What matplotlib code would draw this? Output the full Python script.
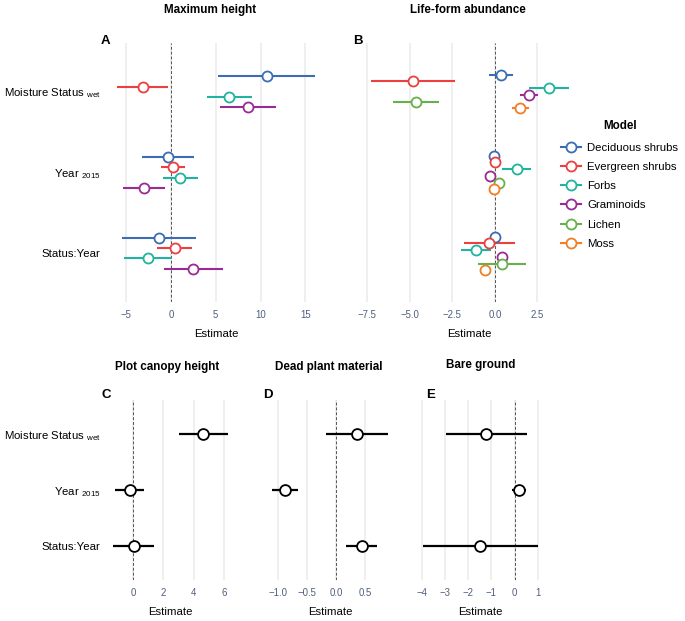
import matplotlib
matplotlib.use("Agg")
import matplotlib.pyplot as plt
from matplotlib.lines import Line2D

plt.rcParams['font.family'] = ['Liberation Sans', 'DejaVu Sans']
plt.rcParams['mathtext.fontset'] = 'custom'
plt.rcParams['mathtext.rm'] = 'Liberation Sans'
plt.rcParams['mathtext.it'] = 'Liberation Sans'

# terms (rows, top to bottom)
terms = [r"Moisture Status$\ _{\mathrm{wet}}$", r"Year$\ _{\mathrm{2015}}$", "Status:Year"]

# life forms
lifeforms = ["Deciduous shrubs", "Evergreen shrubs", "Forbs", "Graminoids", "Lichen", "Moss"]
lf_colors = ["#3b6db5", "#ec3f3f", "#1fb3a0", "#9a2b94", "#67b04b", "#f07f26"]

# Maximum height: rows = life forms (first four), columns = terms
maxh_est = [[10.67, -0.37, -1.34],
            [-3.16, 0.22, 0.41],
            [6.50, 1.04, -2.53],
            [8.59, -3.05, 2.49]]
maxh_lo = [[5.28, -3.27, -5.50],
           [-5.99, -1.12, -1.52],
           [4.05, -0.86, -5.24],
           [5.46, -5.35, -0.78]]
maxh_hi = [[16.10, 2.57, 2.83],
           [-0.30, 1.60, 2.38],
           [9.00, 2.97, 0.15],
           [11.75, -0.71, 5.84]]

# Life-form abundance
abund_est = [[0.35, -0.04, 0.00],
             [-4.83, 0.02, -0.33],
             [3.15, 1.29, -1.12],
             [2.02, -0.29, 0.43],
             [-4.66, 0.27, 0.41],
             [1.47, -0.06, -0.60]]
abund_lo = [[-0.33, -0.14, -0.14],
            [-7.30, -0.10, -1.84],
            [1.98, 0.43, -1.98],
            [1.49, -0.59, 0.20],
            [-5.97, 0.10, -0.98],
            [0.98, -0.25, -0.78]]
abund_hi = [[1.06, 0.10, 0.16],
            [-2.37, 0.16, 1.17],
            [4.34, 2.13, -0.23],
            [2.54, -0.06, 0.72],
            [-3.31, 0.49, 1.82],
            [1.98, 0.14, -0.45]]

# single-response models
canopy_est = [4.64, -0.24, 0.02]
canopy_lo = [3.02, -1.19, -1.32]
canopy_hi = [6.27, 0.73, 1.37]

dead_est = [0.35, -0.88, 0.44]
dead_lo = [-0.18, -1.10, 0.17]
dead_hi = [0.885, -0.66, 0.70]

bare_est = [-1.22, 0.17, -1.49]
bare_lo = [-2.95, -0.13, -3.96]
bare_hi = [0.53, 0.50, 0.99]

W, H = 685, 621
fig = plt.figure(figsize=(W / 100, H / 100), dpi=100)


def px_axes(left, top, right, bottom):
    return fig.add_axes([left / W, 1 - bottom / H, (right - left) / W, (bottom - top) / H])


def draw_panel(ax, est, lo, hi, colors, ticks, ylabels=True, ms=7.2, lw=1.5):
    n = len(est)
    for i in range(n):
        off = 0.25 - (i + 0.5) * 0.5 / n if n > 1 else 0
        y = [3 - t + off for t in range(3)]
        ax.hlines(y, lo[i], hi[i], color=colors[i], lw=lw, zorder=3)
        ax.plot(est[i], y, 'o', mfc='white', mec=colors[i], mew=1.3, ms=ms, zorder=4)
    vmin = min(min(r) for r in lo)
    vmax = max(max(r) for r in hi)
    pad = (vmax - vmin) * 0.05
    ax.set_xlim(vmin - pad, vmax + pad)
    ax.set_ylim(0.4, 3.6)
    ax.axvline(0, color='#555555', lw=0.7, ls=(0, (3, 2)), zorder=2)
    ax.set_xticks(ticks)
    ax.grid(axis='x', color='#ebebeb', lw=1.1)
    ax.grid(axis='y', visible=False)
    ax.set_axisbelow(True)
    for s in ax.spines.values():
        s.set_visible(False)
    ax.set_yticks([3, 2, 1])
    if ylabels:
        ax.set_yticklabels(terms, fontsize=8.2, color='black')
    else:
        ax.set_yticklabels([])
    ax.tick_params(axis='x', length=0, labelsize=6.9, labelcolor='#4d5f7e', pad=5.5)
    ax.tick_params(axis='y', length=0, pad=5)
    ax.set_xlabel("Estimate", fontsize=8.2, labelpad=7)


axA = px_axes(107.5, 43, 325, 302)
draw_panel(axA, maxh_est, maxh_lo, maxh_hi, lf_colors[:4], [-5, 0, 5, 10, 15])

axB = px_axes(360.7, 43, 578.7, 302)
draw_panel(axB, abund_est, abund_lo, abund_hi, lf_colors, [-7.5, -5.0, -2.5, 0.0, 2.5], ylabels=False)

axC = px_axes(107.6, 400, 233.7, 580)
draw_panel(axC, [canopy_est], [canopy_lo], [canopy_hi], ['black'], [0, 2, 4, 6], ms=7.8, lw=1.6)

axD = px_axes(266.7, 400, 393.4, 580)
draw_panel(axD, [dead_est], [dead_lo], [dead_hi], ['black'], [-1.0, -0.5, 0.0, 0.5], ylabels=False, ms=7.8, lw=1.6)

axE = px_axes(416.8, 400, 543.5, 580)
draw_panel(axE, [bare_est], [bare_lo], [bare_hi], ['black'], [-4, -3, -2, -1, 0, 1], ylabels=False, ms=7.8, lw=1.6)

# panel titles
titles = [("Maximum height", 210, 10), ("Life-form abundance", 468, 10),
          ("Plot canopy height", 167, 367), ("Dead plant material", 329, 367),
          ("Bare ground", 481, 365)]
for txt, x, y in titles:
    fig.text(x / W, 1 - y / H, txt, ha='center', va='center', fontsize=8.4, fontweight='bold')

# panel letters
letters = [("A", 101, 41), ("B", 353, 41), ("C", 101, 395), ("D", 263, 395), ("E", 426, 395)]
for txt, x, y in letters:
    fig.text(x / W, 1 - y / H, txt, ha='left', va='center', fontsize=9.5, fontweight='bold')

# legend
handles = [Line2D([0], [0], color=c, lw=1.5, marker='o', mfc='white', mec=c, mew=1.3, ms=7.2)
           for c in lf_colors]
leg = fig.legend(handles, lifeforms, loc='upper left', bbox_to_anchor=(561 / W, 1 - 120 / H),
                 frameon=False, title="Model", title_fontproperties={'weight': 'bold', 'size': 8.4},
                 fontsize=8.2, handlelength=1.75, handletextpad=0.55, labelspacing=0.8,
                 borderpad=0, borderaxespad=0)
leg._legend_box.sep = 8

fig.savefig("out.png", dpi=100)
